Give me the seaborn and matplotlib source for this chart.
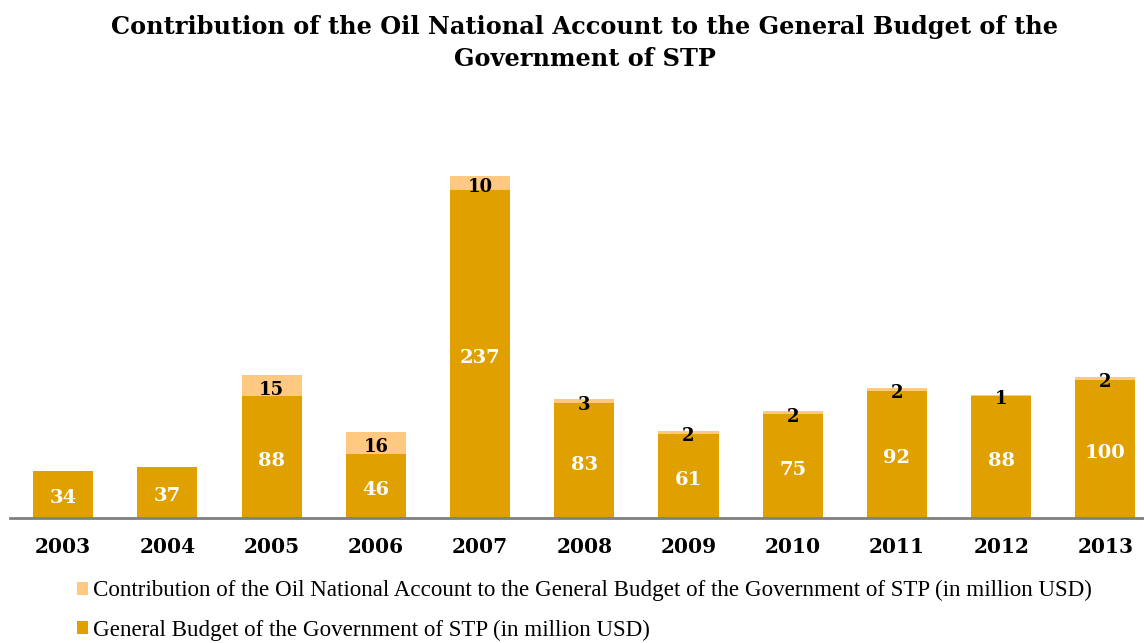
import matplotlib
matplotlib.use("Agg")
import matplotlib.pyplot as plt
import matplotlib.transforms as mtransforms
import seaborn as sns
import pandas as pd
from matplotlib.patches import Patch

years = ["2003", "2004", "2005", "2006", "2007", "2008", "2009", "2010", "2011", "2012", "2013"]
budget = [34, 37, 88, 46, 237, 83, 61, 75, 92, 88, 100]
contribution = [0, 0, 15, 16, 10, 3, 2, 2, 2, 1, 2]

label_contrib = "Contribution of the Oil National Account to the General Budget of the Government of STP (in million USD)"
label_budget = "General Budget of the Government of STP (in million USD)"
title = "Contribution of the Oil National Account to the General Budget of the\nGovernment of STP"

dark = "#E0A000"
light = "#FFC982"

sns.set_theme(style="white")
plt.rcParams["font.family"] = ["DejaVu Serif"]
plt.rcParams["text.color"] = "black"

df = pd.DataFrame({"year": years, "budget": budget, "contribution": contribution})
df["total"] = df["budget"] + df["contribution"]

fig = plt.figure(figsize=(11.44, 6.43), dpi=100)
ax = fig.add_axes([0.0087, 0.1944, 0.9913, 0.56])

sns.barplot(data=df, x="year", y="total", color=light, width=0.576, ax=ax,
            saturation=1, linewidth=0, edgecolor="none")
sns.barplot(data=df, x="year", y="budget", color=dark, width=0.576, ax=ax,
            saturation=1, linewidth=0, edgecolor="none")

ax.set_xlim(-0.51, 10.37)
ax.set_ylim(0, 260)
for s in ["top", "right", "left"]:
    ax.spines[s].set_visible(False)
ax.spines["bottom"].set_color("#808080")
ax.spines["bottom"].set_linewidth(2)
ax.set_yticks([])
ax.set_xlabel("")
ax.set_ylabel("")
ax.tick_params(axis="x", length=0, pad=14)
for t in ax.get_xticklabels():
    t.set_fontweight("bold")
    t.set_fontsize(14.5)
    t.set_color("black")

shift = mtransforms.offset_copy(ax.transData, fig=fig, x=0, y=-4, units="dots")
for i, (b, c) in enumerate(zip(budget, contribution)):
    ax.text(i, b / 2, str(b), ha="center", va="center", color="white",
            fontsize=14, fontweight="bold", transform=shift)
    if c > 0:
        ax.text(i, b + c / 2, str(c), ha="center", va="center", color="black",
                fontsize=13, fontweight="bold", transform=shift)

fig.text(0.511, 0.977, title, ha="center", va="top", fontsize=17.3,
         fontweight="bold", linespacing=1.42, color="black")

handles = [Patch(facecolor=light, edgecolor="none", label=label_contrib),
           Patch(facecolor=dark, edgecolor="none", label=label_budget)]
leg = fig.legend(handles=handles, loc="lower left", bbox_to_anchor=(0.049, -0.029),
                 frameon=False, prop={"family": "Liberation Serif", "size": 16.6},
                 handlelength=0.5, handleheight=0.5, handletextpad=0.2,
                 labelspacing=0.8)
for t in leg.get_texts():
    t.set_color("black")

fig.savefig("out.png", dpi=100)
